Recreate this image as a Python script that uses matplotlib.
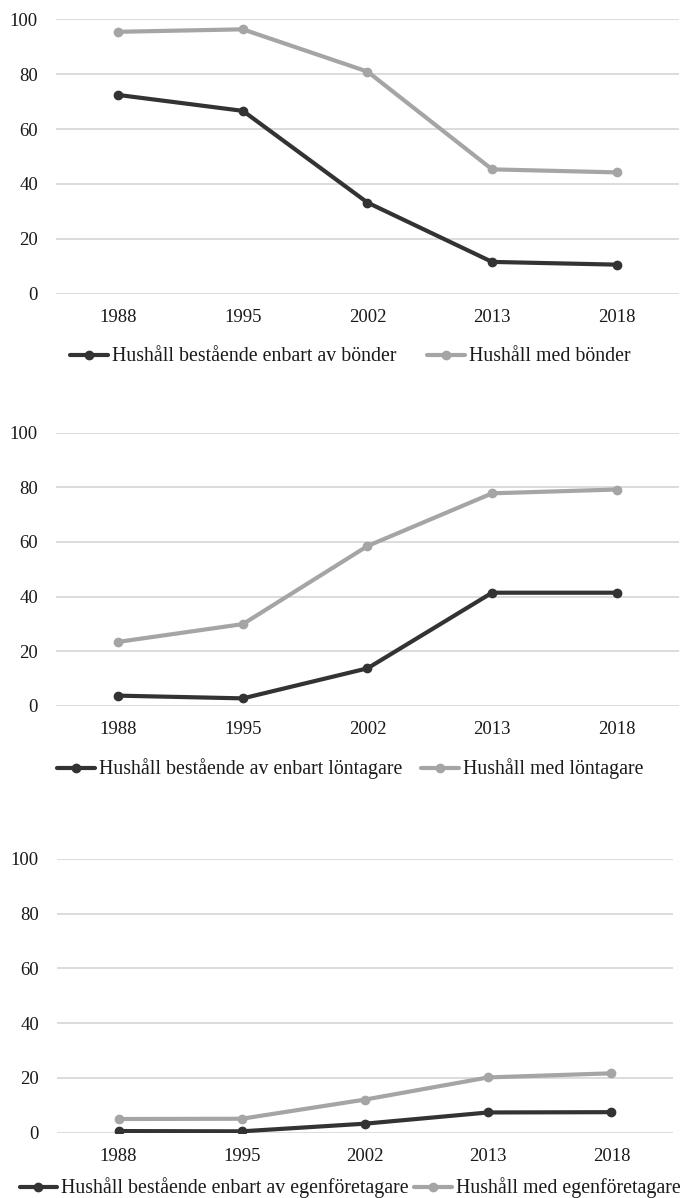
import matplotlib
matplotlib.use("Agg")
import matplotlib.pyplot as plt

plt.rcParams['font.family'] = ['Liberation Serif', 'DejaVu Serif']

years = ['1988', '1995', '2002', '2013', '2018']

# panel 1: bönder
only_farmers = [72.4, 66.6, 33.2, 11.6, 10.6]
with_farmers = [95.4, 96.3, 80.9, 45.3, 44.2]

# panel 2: löntagare
only_wage = [3.7, 2.7, 13.7, 41.4, 41.4]
with_wage = [23.4, 29.9, 58.5, 77.8, 79.2]

# panel 3: egenföretagare
only_self = [0.6, 0.5, 3.3, 7.4, 7.5]
with_self = [5.0, 5.1, 12.1, 20.2, 21.7]

panels = [
    (only_farmers, with_farmers,
     'Hushåll bestående enbart av bönder', 'Hushåll med bönder',
     [0.0821, 0.7548, 0.9135, 0.2292], 357, 1.55),
    (only_wage, with_wage,
     'Hushåll bestående av enbart löntagare', 'Hushåll med löntagare',
     [0.0821, 0.4109, 0.9135, 0.2279], 769, 0.95),
    (only_self, with_self,
     'Hushåll bestående enbart av egenföretagare', 'Hushåll med egenföretagare',
     [0.0836, 0.0545, 0.9032, 0.2285], 1188, 0.25),
]

dark = '#333333'
light = '#a5a5a5'
fs = 13.5
leg_fs = 14.3

fig = plt.figure(figsize=(6.82, 11.98), dpi=100)

for only, withv, lab1, lab2, rect, leg_y, colsp in panels:
    ax = fig.add_axes(rect)
    x = range(len(years))
    l1, = ax.plot(x, only, color=dark, lw=3, marker='o', ms=6, label=lab1,
                  solid_capstyle='round', zorder=3)
    l2, = ax.plot(x, withv, color=light, lw=3, marker='o', ms=6, label=lab2,
                  solid_capstyle='round', zorder=3)
    ax.set_xlim(-0.5, 4.5)
    ax.set_ylim(0, 100)
    ax.set_yticks([0, 20, 40, 60, 80, 100])
    ax.set_xticks(list(x))
    ax.set_xticklabels(years)
    ax.grid(axis='y', color='#d9d9d9', lw=1.3)
    ax.set_axisbelow(True)
    for s in ax.spines.values():
        s.set_visible(False)
    ax.tick_params(length=0, labelsize=fs, colors='#1a1a1a')
    ax.tick_params(axis='y', pad=13)
    ax.tick_params(axis='x', pad=11)
    fig.legend(handles=[l1, l2], loc='center',
               bbox_to_anchor=(350 / 682, 1 - leg_y / 1198), ncol=2,
               frameon=False, fontsize=leg_fs, handlelength=1.9,
               handletextpad=0.2, columnspacing=colsp, borderaxespad=0,
               borderpad=0, labelcolor='#1a1a1a')

fig.savefig('out.png', dpi=100)
